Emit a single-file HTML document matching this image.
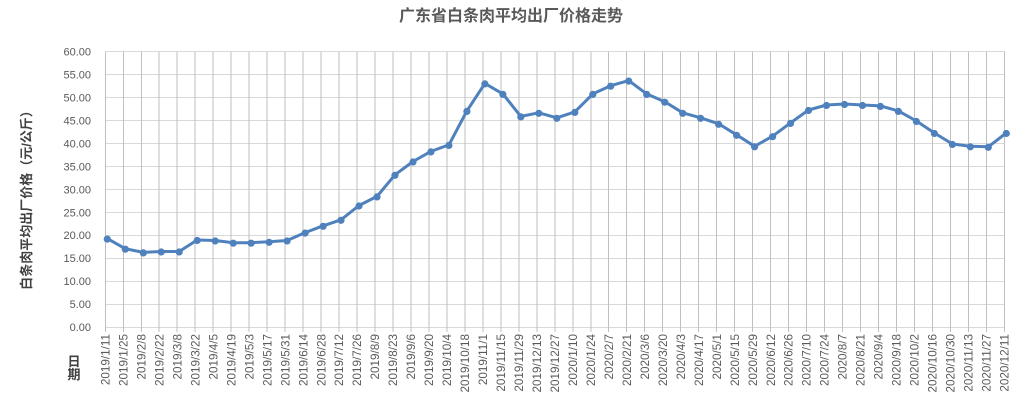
<!DOCTYPE html>
<html>
<head>
<meta charset="utf-8">
<style>
html,body{margin:0;padding:0;background:#fff;}
svg{display:block;}
text{font-family:"Liberation Sans","Noto Sans CJK SC",sans-serif;}
</style>
</head>
<body>
<svg width="1025" height="404" viewBox="0 0 1025 404" xmlns="http://www.w3.org/2000/svg">
<rect width="1025" height="404" fill="#fff"/>
<!-- horizontal gridlines -->
<g stroke="#d9d9d9" stroke-width="1" shape-rendering="crispEdges">
<line x1="105.3" x2="1004.3" y1="51.7" y2="51.7"/>
<line x1="105.3" x2="1004.3" y1="74.7" y2="74.7"/>
<line x1="105.3" x2="1004.3" y1="97.7" y2="97.7"/>
<line x1="105.3" x2="1004.3" y1="120.6" y2="120.6"/>
<line x1="105.3" x2="1004.3" y1="143.6" y2="143.6"/>
<line x1="105.3" x2="1004.3" y1="166.5" y2="166.5"/>
<line x1="105.3" x2="1004.3" y1="189.5" y2="189.5"/>
<line x1="105.3" x2="1004.3" y1="212.5" y2="212.5"/>
<line x1="105.3" x2="1004.3" y1="235.4" y2="235.4"/>
<line x1="105.3" x2="1004.3" y1="258.4" y2="258.4"/>
<line x1="105.3" x2="1004.3" y1="281.4" y2="281.4"/>
<line x1="105.3" x2="1004.3" y1="304.3" y2="304.3"/>
<line x1="105.3" x2="1004.3" y1="327.3" y2="327.3"/>
</g>
<!-- vertical gridlines -->
<g stroke="#bfbfbf" stroke-width="1" shape-rendering="crispEdges">
<path d="M105.3 51.7V332M123.3 51.7V332M141.3 51.7V332M159.2 51.7V332M177.2 51.7V332M195.2 51.7V332M213.2 51.7V332M231.2 51.7V332M249.1 51.7V332M267.1 51.7V332M285.1 51.7V332M303.1 51.7V332M321.1 51.7V332M339.0 51.7V332M357.0 51.7V332M375.0 51.7V332M393.0 51.7V332M411.0 51.7V332M428.9 51.7V332M446.9 51.7V332M464.9 51.7V332M482.9 51.7V332M500.9 51.7V332M518.8 51.7V332M536.8 51.7V332M554.8 51.7V332M572.8 51.7V332M590.8 51.7V332M608.7 51.7V332M626.7 51.7V332M644.7 51.7V332M662.7 51.7V332M680.7 51.7V332M698.6 51.7V332M716.6 51.7V332M734.6 51.7V332M752.6 51.7V332M770.6 51.7V332M788.5 51.7V332M806.5 51.7V332M824.5 51.7V332M842.5 51.7V332M860.5 51.7V332M878.4 51.7V332M896.4 51.7V332M914.4 51.7V332M932.4 51.7V332M950.4 51.7V332M968.3 51.7V332M986.3 51.7V332M1004.3 51.7V332"/>
</g>
<!-- title -->
<text x="511" y="21" text-anchor="middle" font-size="16" font-weight="bold" fill="#595959">广东省白条肉平均出厂价格走势</text>
<!-- y axis labels -->
<g font-size="11" fill="#595959" text-anchor="end">
<text x="91" y="55.5">60.00</text>
<text x="91" y="78.5">55.00</text>
<text x="91" y="101.5">50.00</text>
<text x="91" y="124.4">45.00</text>
<text x="91" y="147.4">40.00</text>
<text x="91" y="170.3">35.00</text>
<text x="91" y="193.3">30.00</text>
<text x="91" y="216.3">25.00</text>
<text x="91" y="239.2">20.00</text>
<text x="91" y="262.2">15.00</text>
<text x="91" y="285.2">10.00</text>
<text x="91" y="308.1">5.00</text>
<text x="91" y="331.1">0.00</text>
</g>
<!-- y axis title -->
<text transform="translate(31,197) rotate(-90)" text-anchor="middle" font-size="13" font-weight="bold" fill="#404040">白条肉平均出厂价格（元/公斤）</text>
<!-- x axis title -->
<text x="74" y="366" text-anchor="middle" font-size="13" font-weight="bold" fill="#404040">日</text>
<text x="74" y="379" text-anchor="middle" font-size="13" font-weight="bold" fill="#404040">期</text>
<!-- x labels -->
<g font-size="11.7" fill="#595959" text-anchor="end">
<text transform="translate(109.5,334) rotate(-90)">2019/1/11</text>
<text transform="translate(127.5,334) rotate(-90)">2019/1/25</text>
<text transform="translate(145.5,334) rotate(-90)">2019/2/8</text>
<text transform="translate(163.4,334) rotate(-90)">2019/2/22</text>
<text transform="translate(181.4,334) rotate(-90)">2019/3/8</text>
<text transform="translate(199.4,334) rotate(-90)">2019/3/22</text>
<text transform="translate(217.4,334) rotate(-90)">2019/4/5</text>
<text transform="translate(235.4,334) rotate(-90)">2019/4/19</text>
<text transform="translate(253.3,334) rotate(-90)">2019/5/3</text>
<text transform="translate(271.3,334) rotate(-90)">2019/5/17</text>
<text transform="translate(289.3,334) rotate(-90)">2019/5/31</text>
<text transform="translate(307.3,334) rotate(-90)">2019/6/14</text>
<text transform="translate(325.3,334) rotate(-90)">2019/6/28</text>
<text transform="translate(343.2,334) rotate(-90)">2019/7/12</text>
<text transform="translate(361.2,334) rotate(-90)">2019/7/26</text>
<text transform="translate(379.2,334) rotate(-90)">2019/8/9</text>
<text transform="translate(397.2,334) rotate(-90)">2019/8/23</text>
<text transform="translate(415.2,334) rotate(-90)">2019/9/6</text>
<text transform="translate(433.1,334) rotate(-90)">2019/9/20</text>
<text transform="translate(451.1,334) rotate(-90)">2019/10/4</text>
<text transform="translate(469.1,334) rotate(-90)">2019/10/18</text>
<text transform="translate(487.1,334) rotate(-90)">2019/11/1</text>
<text transform="translate(505.1,334) rotate(-90)">2019/11/15</text>
<text transform="translate(523.0,334) rotate(-90)">2019/11/29</text>
<text transform="translate(541.0,334) rotate(-90)">2019/12/13</text>
<text transform="translate(559.0,334) rotate(-90)">2019/12/27</text>
<text transform="translate(577.0,334) rotate(-90)">2020/1/10</text>
<text transform="translate(595.0,334) rotate(-90)">2020/1/24</text>
<text transform="translate(612.9,334) rotate(-90)">2020/2/7</text>
<text transform="translate(630.9,334) rotate(-90)">2020/2/21</text>
<text transform="translate(648.9,334) rotate(-90)">2020/3/6</text>
<text transform="translate(666.9,334) rotate(-90)">2020/3/20</text>
<text transform="translate(684.9,334) rotate(-90)">2020/4/3</text>
<text transform="translate(702.8,334) rotate(-90)">2020/4/17</text>
<text transform="translate(720.8,334) rotate(-90)">2020/5/1</text>
<text transform="translate(738.8,334) rotate(-90)">2020/5/15</text>
<text transform="translate(756.8,334) rotate(-90)">2020/5/29</text>
<text transform="translate(774.8,334) rotate(-90)">2020/6/12</text>
<text transform="translate(792.7,334) rotate(-90)">2020/6/26</text>
<text transform="translate(810.7,334) rotate(-90)">2020/7/10</text>
<text transform="translate(828.7,334) rotate(-90)">2020/7/24</text>
<text transform="translate(846.7,334) rotate(-90)">2020/8/7</text>
<text transform="translate(864.7,334) rotate(-90)">2020/8/21</text>
<text transform="translate(882.6,334) rotate(-90)">2020/9/4</text>
<text transform="translate(900.6,334) rotate(-90)">2020/9/18</text>
<text transform="translate(918.6,334) rotate(-90)">2020/10/2</text>
<text transform="translate(936.6,334) rotate(-90)">2020/10/16</text>
<text transform="translate(954.6,334) rotate(-90)">2020/10/30</text>
<text transform="translate(972.5,334) rotate(-90)">2020/11/13</text>
<text transform="translate(990.5,334) rotate(-90)">2020/11/27</text>
<text transform="translate(1008.5,334) rotate(-90)">2020/12/11</text>
</g>
<!-- series -->
<polyline fill="none" stroke="#4f81bd" stroke-width="3" stroke-linejoin="round" stroke-linecap="round" points="107.3,238.6 125.3,248.7 143.3,252.4 161.2,251.5 179.2,251.5 197.2,240.0 215.2,240.5 233.2,242.7 251.1,242.7 269.1,241.8 287.1,240.5 305.1,232.6 323.1,225.8 341.0,219.8 359.0,205.5 377.0,196.4 395.0,174.8 413.0,161.5 430.9,151.4 448.9,144.9 466.9,110.9 484.9,83.4 502.9,93.9 520.8,116.4 538.8,112.8 556.8,117.8 574.8,111.9 592.8,93.9 610.7,85.7 628.7,80.6 646.7,93.9 664.7,101.7 682.7,112.8 700.6,117.8 718.6,123.8 736.6,134.8 754.6,146.3 772.6,136.2 790.5,122.9 808.5,110.0 826.5,105.0 844.5,104.0 862.5,105.0 880.4,105.9 898.4,110.9 916.4,121.0 934.4,133.0 952.4,144.0 970.3,146.3 988.3,146.8 1006.3,133.0"/>
<g fill="#4f81bd">
<circle cx="107.3" cy="239.1" r="3.6"/><circle cx="125.3" cy="249.2" r="3.6"/><circle cx="143.3" cy="252.9" r="3.6"/><circle cx="161.2" cy="252.0" r="3.6"/><circle cx="179.2" cy="252.0" r="3.6"/><circle cx="197.2" cy="240.5" r="3.6"/><circle cx="215.2" cy="241.0" r="3.6"/><circle cx="233.2" cy="243.2" r="3.6"/><circle cx="251.1" cy="243.2" r="3.6"/><circle cx="269.1" cy="242.3" r="3.6"/><circle cx="287.1" cy="241.0" r="3.6"/><circle cx="305.1" cy="233.1" r="3.6"/><circle cx="323.1" cy="226.3" r="3.6"/><circle cx="341.0" cy="220.3" r="3.6"/><circle cx="359.0" cy="206.0" r="3.6"/><circle cx="377.0" cy="196.9" r="3.6"/><circle cx="395.0" cy="175.3" r="3.6"/><circle cx="413.0" cy="162.0" r="3.6"/><circle cx="430.9" cy="151.9" r="3.6"/><circle cx="448.9" cy="145.4" r="3.6"/><circle cx="466.9" cy="111.4" r="3.6"/><circle cx="484.9" cy="83.9" r="3.6"/><circle cx="502.9" cy="94.4" r="3.6"/><circle cx="520.8" cy="116.9" r="3.6"/><circle cx="538.8" cy="113.3" r="3.6"/><circle cx="556.8" cy="118.3" r="3.6"/><circle cx="574.8" cy="112.4" r="3.6"/><circle cx="592.8" cy="94.4" r="3.6"/><circle cx="610.7" cy="86.2" r="3.6"/><circle cx="628.7" cy="81.1" r="3.6"/><circle cx="646.7" cy="94.4" r="3.6"/><circle cx="664.7" cy="102.2" r="3.6"/><circle cx="682.7" cy="113.3" r="3.6"/><circle cx="700.6" cy="118.3" r="3.6"/><circle cx="718.6" cy="124.3" r="3.6"/><circle cx="736.6" cy="135.3" r="3.6"/><circle cx="754.6" cy="146.8" r="3.6"/><circle cx="772.6" cy="136.7" r="3.6"/><circle cx="790.5" cy="123.4" r="3.6"/><circle cx="808.5" cy="110.5" r="3.6"/><circle cx="826.5" cy="105.5" r="3.6"/><circle cx="844.5" cy="104.5" r="3.6"/><circle cx="862.5" cy="105.5" r="3.6"/><circle cx="880.4" cy="106.4" r="3.6"/><circle cx="898.4" cy="111.4" r="3.6"/><circle cx="916.4" cy="121.5" r="3.6"/><circle cx="934.4" cy="133.5" r="3.6"/><circle cx="952.4" cy="144.5" r="3.6"/><circle cx="970.3" cy="146.8" r="3.6"/><circle cx="988.3" cy="147.3" r="3.6"/><circle cx="1006.3" cy="133.5" r="3.6"/>
</g>
</svg>
</body>
</html>
